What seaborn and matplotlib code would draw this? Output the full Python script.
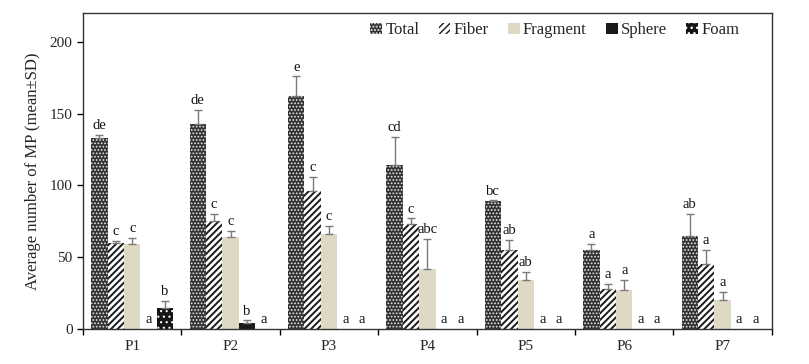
import pandas as pd
import matplotlib.pyplot as plt
from matplotlib.patches import Patch
import seaborn as sns
import numpy as np

# Data
sites = ['P1', 'P2', 'P3', 'P4', 'P5', 'P6', 'P7']
types = ['Total', 'Fiber', 'Fragment', 'Sphere', 'Foam']

total_mean = [133, 143, 162, 114, 89, 55, 65]
total_sd = [2, 9.5, 14, 20, 0.5, 4, 15]
fiber_mean = [60, 75, 96, 73, 55, 28, 45]
fiber_sd = [1.5, 5, 10, 4, 7, 3.5, 10]
fragment_mean = [59, 64, 66, 42, 34, 27, 20]
fragment_sd = [4.5, 4.5, 6, 21, 6, 7, 6]
sphere_mean = [0, 4, 0, 0, 0, 0, 0]
sphere_sd = [0, 2, 0, 0, 0, 0, 0]
foam_mean = [14.5, 0, 0, 0, 0, 0, 0]
foam_sd = [5, 0, 0, 0, 0, 0, 0]

letters = {
    'Total': ['de', 'de', 'e', 'cd', 'bc', 'a', 'ab'],
    'Fiber': ['c', 'c', 'c', 'c', 'ab', 'a', 'a'],
    'Fragment': ['c', 'c', 'c', 'abc', 'ab', 'a', 'a'],
    'Sphere': ['a', 'b', 'a', 'a', 'a', 'a', 'a'],
    'Foam': ['b', 'a', 'a', 'a', 'a', 'a', 'a'],
}

means = {'Total': total_mean, 'Fiber': fiber_mean, 'Fragment': fragment_mean,
         'Sphere': sphere_mean, 'Foam': foam_mean}
sds = {'Total': total_sd, 'Fiber': fiber_sd, 'Fragment': fragment_sd,
       'Sphere': sphere_sd, 'Foam': foam_sd}

rows = []
for t in types:
    for i, s in enumerate(sites):
        rows.append({'site': s, 'type': t, 'mean': means[t][i], 'sd': sds[t][i],
                     'letter': letters[t][i]})
df = pd.DataFrame(rows)

# Style
sns.set_style('white')
plt.rcParams['font.family'] = ['Liberation Serif', 'DejaVu Serif']
plt.rcParams['hatch.linewidth'] = 1.0

styles = {
    'Total': dict(facecolor='#333333', edgecolor='#e8e8e8', hatch='.....', hlw=0.8),
    'Fiber': dict(facecolor='white', edgecolor='#1a1a1a', hatch='/////', hlw=1.4),
    'Fragment': dict(facecolor='#ddd9c4', edgecolor='#ddd9c4', hatch=None, hlw=1.0),
    'Sphere': dict(facecolor='#1a1a1a', edgecolor='#1a1a1a', hatch=None, hlw=1.0),
    'Foam': dict(facecolor='#151515', edgecolor='white', hatch='...', hlw=0.8),
}


def style_patch(p, st):
    p.set_facecolor(st['facecolor'])
    p.set_edgecolor(st['edgecolor'])
    p.set_linewidth(0)
    if st['hatch']:
        p.set_hatch(st['hatch'])
        if hasattr(p, 'set_hatch_linewidth'):
            p.set_hatch_linewidth(st['hlw'])


fig = plt.figure(figsize=(8.09, 3.64), dpi=100)
ax = fig.add_axes([0.1026, 0.0962, 0.8514, 0.8678])

sns.barplot(data=df, x='site', y='mean', hue='type', order=sites, hue_order=types,
            width=0.835, errorbar=None, legend=False, ax=ax)

# Restyle bars and add one-sided error bars and letters
for t, container in zip(types, ax.containers):
    sub = df[df['type'] == t].reset_index(drop=True)
    for bar, (_, r) in zip(container, sub.iterrows()):
        style_patch(bar, styles[t])
        xc = bar.get_x() + bar.get_width() / 2
        top = r['mean'] + r['sd']
        if r['sd'] > 0:
            ax.errorbar(xc, r['mean'], yerr=[[0], [r['sd']]], fmt='none',
                        ecolor='#7a7a7a', elinewidth=1, capsize=3, capthick=1)
        ax.annotate(r['letter'], xy=(xc, top), xytext=(0, 2),
                    textcoords='offset points', ha='center', va='bottom',
                    fontsize=10.5, color='#111111')

ax.set_ylim(0, 220)
ax.set_xlim(-0.5, 6.5)
ax.set_yticks([0, 50, 100, 150, 200])
ax.tick_params(axis='y', direction='out', length=4, width=1, labelsize=11,
               left=True, color='black')
ax.set_xticks(range(len(sites)))
ax.set_xticklabels(sites, fontsize=11)
ax.tick_params(axis='x', which='major', length=0, pad=8)
ax.set_xticks(np.arange(-0.5, 7, 1), minor=True)
ax.tick_params(axis='x', which='minor', direction='out', length=4, width=1,
               bottom=True, color='black')

for sp in ax.spines.values():
    sp.set_color('#333333')
    sp.set_linewidth(1)

ax.set_xlabel('')
ax.set_ylabel('Average number of MP (mean±SD)', fontsize=12, labelpad=6)

handles = []
for t in types:
    h = Patch(label=t)
    style_patch(h, styles[t])
    handles.append(h)
ax.legend(handles=handles, loc='center', bbox_to_anchor=(0.685, 0.945), ncol=5,
          frameon=False, fontsize=12, handlelength=0.7, handleheight=0.7,
          handletextpad=0.2, columnspacing=1.15)

fig.savefig('out.png', dpi=100)
